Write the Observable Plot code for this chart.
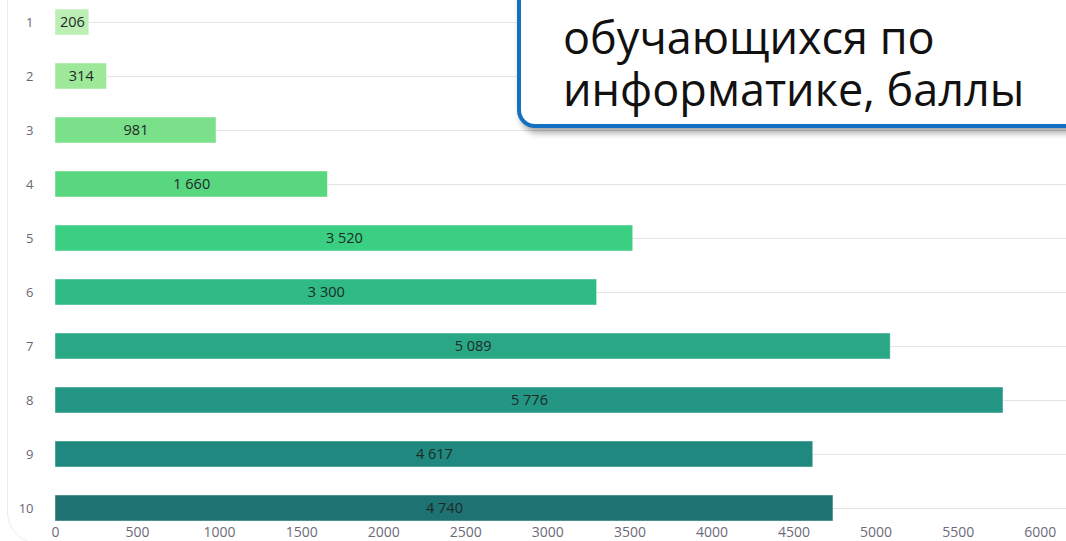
<!DOCTYPE html>
<html>
<head>
<meta charset="utf-8">
<script src="https://cdn.jsdelivr.net/npm/d3@7"></script>
<script src="https://cdn.jsdelivr.net/npm/@observablehq/plot@0.6"></script>
<style>
  html, body { margin: 0; padding: 0; background: #fff; overflow: hidden; }
  #wrap { position: relative; width: 1066px; height: 541px; overflow: hidden; font-family: "Open Sans", sans-serif; }
  #card { position: absolute; left: 7px; top: -40px; width: 1100px; height: 584px; border: 1px solid #ececec; border-radius: 32px; box-sizing: border-box; }
  #chart { position: absolute; left: 0; top: 0; }
  #callout { position: absolute; left: 517px; top: -50px; width: 620px; height: 178px; box-sizing: border-box;
    border: 4px solid #1670c2; border-radius: 18px; background: #fff; box-shadow: 3px 5px 6px rgba(0,0,0,0.35);
    padding-left: 42px; padding-top: 57px; font-family: "Open Sans", sans-serif; font-size: 45px; line-height: 52px; color: #111; white-space: nowrap; }
</style>
</head>
<body>
<div id="wrap">
  <div id="card"></div>
  <div id="chart"></div>
  <div id="callout">обучающихся по<br>информатике, баллы</div>
</div>
<script>
const categories = ["1","2","3","4","5","6","7","8","9","10"];
const values = [206, 314, 981, 1660, 3520, 3300, 5089, 5776, 4617, 4740];
const colors = ["#bdeeb5","#9ee89a","#7ae08a","#58d680","#3bcf83","#30ba86","#2aa886","#239684","#20887e","#1e7272"];
const xTicks = [0,500,1000,1500,2000,2500,3000,3500,4000,4500,5000,5500,6000];

const data = categories.map((c, i) => ({cat: c, value: values[i], color: colors[i]}));
const fmt = v => d3.format(",")(v).replace(/,/g, "\u00a0");

const chart = Plot.plot({
  width: 1066,
  height: 541,
  marginLeft: 55,
  marginRight: 0,
  marginTop: 0,
  marginBottom: 16,
  style: {fontFamily: "Open Sans, sans-serif", background: "transparent"},
  x: {domain: [0, 6160], range: [55, 1066]},
  y: {domain: categories, range: [-5, 535], paddingInner: 0.52, paddingOuter: 0.26},
  marks: [
    Plot.gridX(xTicks, {stroke: "#ddd8d4", strokeOpacity: 1, y1: 0, y2: 528}),
    Plot.gridY({stroke: "#e4e4e4", strokeOpacity: 1}),
    Plot.ruleX([0], {stroke: "#cfcac6", y1: 0, y2: 528}),
    Plot.barX(data, {x: "value", y: "cat", fill: "color", stroke: "#ffffff", strokeOpacity: 0.45, strokeWidth: 1}),
    Plot.text(data, {x: d => d.value / 2, y: "cat", text: d => fmt(d.value), fill: "#1d2a26", fontSize: 14.5}),
    Plot.axisY({anchor: "left", tickSize: 0, tickPadding: 22, fontSize: 13, color: "#6a6678", label: null}),
    Plot.axisX(xTicks, {anchor: "bottom", tickSize: 0, tickPadding: 2, fontSize: 14, color: "#6e6a7a", label: null, tickFormat: d => String(d)})
  ]
});
document.getElementById("chart").appendChild(chart);
</script>
</body>
</html>
